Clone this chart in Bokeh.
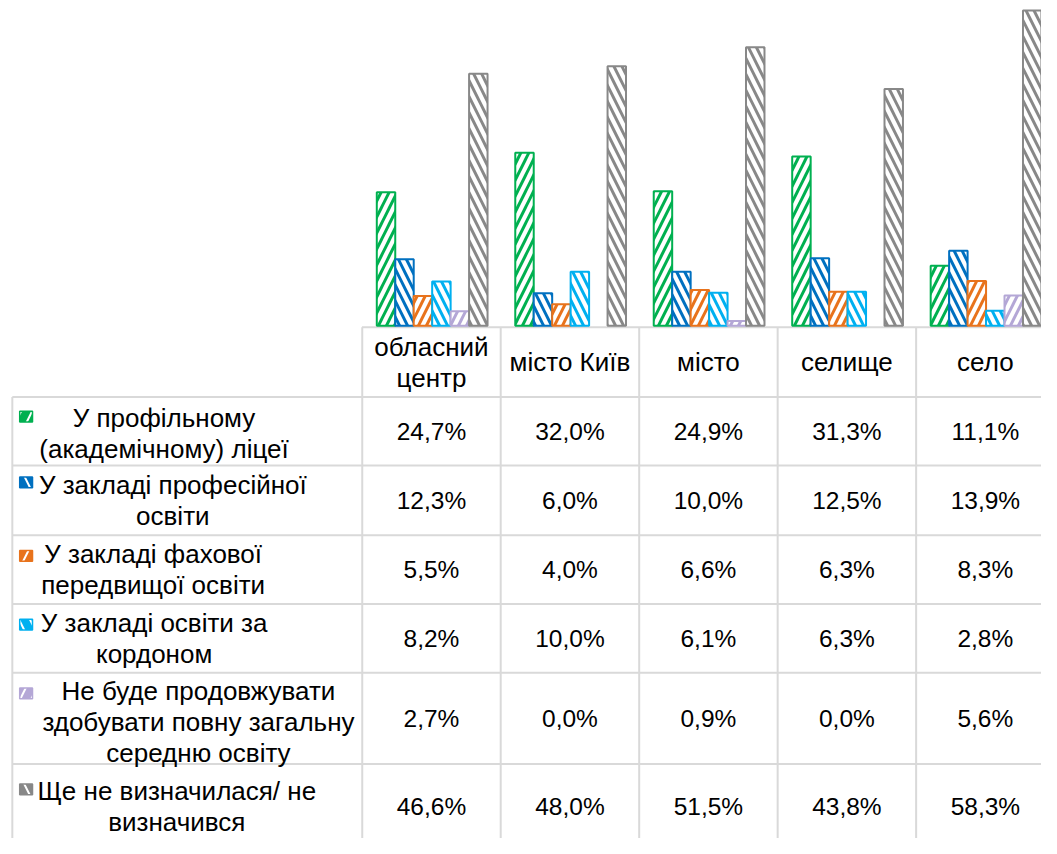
from bokeh.plotting import figure
from bokeh.models import Range1d
from bokeh.core.properties import value
from bokeh.embed import file_html
from bokeh.resources import INLINE

# ---- data ----
categories = ["обласний центр", "місто Київ", "місто", "селище", "село"]
category_labels = ["обласний\nцентр", "місто Київ", "місто", "селище", "село"]

series_names = [
    "У профільному\n(академічному) ліцеї",
    "У закладі професійної\nосвіти",
    "У закладі фахової\nпередвищої освіти",
    "У закладі освіти за\nкордоном",
    "Не буде продовжувати\nздобувати повну загальну\nсередню освіту",
    "Ще не визначилася/ не\nвизначився",
]
profile_lyceum = [24.7, 32.0, 24.9, 31.3, 11.1]
vocational = [12.3, 6.0, 10.0, 12.5, 13.9]
pre_higher = [5.5, 4.0, 6.6, 6.3, 8.3]
abroad = [8.2, 10.0, 6.1, 6.3, 2.8]
not_continue = [2.7, 0.0, 0.9, 0.0, 5.6]
undecided = [46.6, 48.0, 51.5, 43.8, 58.3]
series_values = [profile_lyceum, vocational, pre_higher, abroad, not_continue, undecided]

# ---- styles ----
colors = ["#00B050", "#0070C0", "#E8731C", "#00B0F0", "#B4A7D6", "#888888"]
hatches = ["/", "\\", "/", "\\", "/", "\\"]
GRID = "#D9D9D9"
FONT = value("Liberation Sans")
FS_LABEL = "26px"
FS_VALUE = "24.5px"
LINE_H = 1.03

# ---- layout helpers (reference pixel -> data units) ----
BASE_Y = 331.5      # pixel row of 0 %
PX_PER_PCT = 5.51
COL0_X = 367.3      # left edge of first category column
COL_W = 140.6


def fx(px):
    return (px - COL0_X) / COL_W


def fy(py):
    return (BASE_Y - py) / PX_PER_PCT


W, H = 1041, 838
p = figure(width=W, height=H,
           x_range=Range1d(fx(0), fx(1057)),
           y_range=Range1d(fy(854), fy(0)),
           output_backend="svg", toolbar_location=None, min_border=0)
p.axis.visible = False
p.grid.visible = False
p.outline_line_color = None
p.background_fill_color = "white"
p.border_fill_color = "white"

# ---- table grid lines ----
x_end = fx(1080)
y_end = fy(890)
row_lines = [404, 474, 545, 615, 685, 778]
hx0, hx1, hy = [fx(367)], [x_end], [fy(333)]
for r in row_lines:
    hx0.append(fx(12)); hx1.append(x_end); hy.append(fy(r))
p.segment(x0=hx0, y0=hy, x1=hx1, y1=hy, line_color=GRID, line_width=2)
vx = [fx(12)] + [float(i) for i in range(len(categories))]
vy0 = [fy(404)] + [fy(333)] * len(categories)
p.segment(x0=vx, y0=vy0, x1=vx, y1=[y_end] * len(vx), line_color=GRID, line_width=2)

# ---- bars ----
n = len(series_values)
bw = 0.1333
for j, (vals, col, hp) in enumerate(zip(series_values, colors, hatches)):
    xs = [i + 0.505 + (j - (n - 1) / 2) * bw for i in range(len(categories))]
    outline = [col if v > 0 else None for v in vals]
    p.vbar(x=xs, top=vals, bottom=0, width=bw,
           fill_color="white", line_color=outline, line_width=2,
           hatch_pattern=hp, hatch_color=col, hatch_scale=16, hatch_weight=3)

# ---- header (category labels) ----
p.text(x=[i + 0.5 for i in range(len(categories))], y=[fy(368.5)] * len(categories),
       text=category_labels, text_font=FONT, text_font_size=FS_LABEL,
       text_align="center", text_baseline="middle", text_line_height=LINE_H,
       text_color="black")

# ---- value cells ----
row_centers = [439.5, 509.5, 580, 650, 731.5, 821.5]
vx_, vy_, vt_ = [], [], []
for j, vals in enumerate(series_values):
    for i, v in enumerate(vals):
        vx_.append(i + 0.5)
        vy_.append(fy(row_centers[j]))
        vt_.append(f"{v:.1f}%".replace(".", ","))
p.text(x=vx_, y=vy_, text=vt_, text_font=FONT, text_font_size=FS_VALUE,
       text_align="center", text_baseline="middle", text_color="black")

# ---- legend column ----
label_cx = [166, 175, 155, 156, 201, 179]
label_cy = [441, 509.5, 580, 650, 735, 821]
p.text(x=[fx(c) for c in label_cx], y=[fy(c) for c in label_cy], text=series_names,
       text_font=FONT, text_font_size=FS_LABEL, text_align="center", text_baseline="middle",
       text_line_height=LINE_H, text_color="black")

key_y = [424, 491, 566, 636, 706, 804]
p.rect(x=[fx(26)] * n, y=[fy(k) for k in key_y], width=13 / COL_W, height=11 / PX_PER_PCT,
       fill_color=colors, line_color=colors, line_width=1.5,
       hatch_pattern=hatches, hatch_color="white", hatch_scale=22, hatch_weight=2)

open("out.html", "w").write(file_html(p, INLINE))
